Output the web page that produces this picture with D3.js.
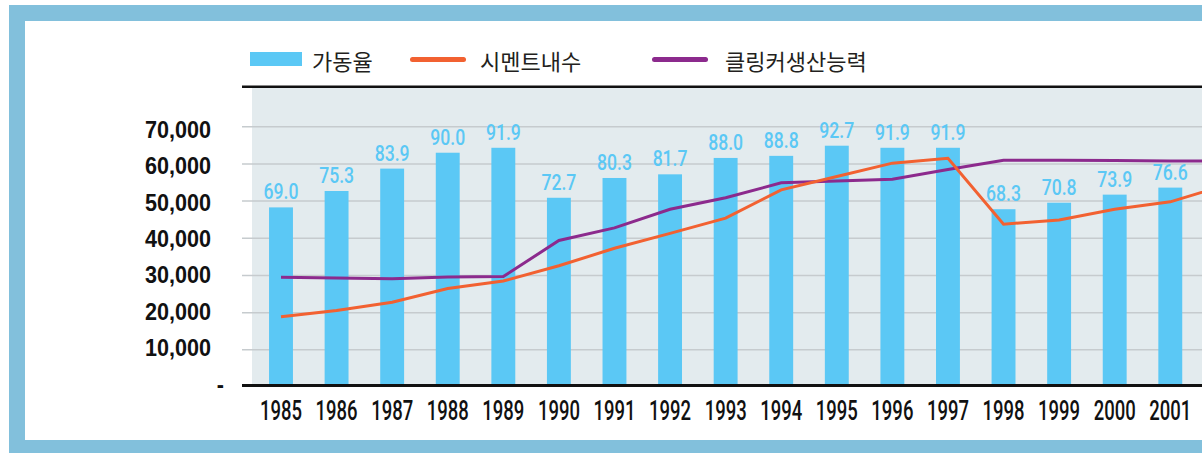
<!DOCTYPE html>
<html>
<head>
<meta charset="utf-8">
<script src="https://cdn.jsdelivr.net/npm/d3@7"></script>
<style>
  html, body { margin: 0; padding: 0; background: #fff; overflow: hidden; }
  svg { display: block; }
</style>
</head>
<body>
<div id="chart"></div>
<script>
//constants
const width = 1202;
const height = 453;

// data
const years = [1985, 1986, 1987, 1988, 1989, 1990, 1991, 1992, 1993, 1994, 1995, 1996, 1997, 1998, 1999, 2000, 2001, 2002];
// 가동율 (%), bars, 1985-2001
const utilization = [69.0, 75.3, 83.9, 90.0, 91.9, 72.7, 80.3, 81.7, 88.0, 88.8, 92.7, 91.9, 91.9, 68.3, 70.8, 73.9, 76.6];
// 시멘트내수 (thousand tons)
const cementDemand = [18900, 20600, 22800, 26500, 28500, 32600, 37300, 41300, 45400, 53000, 56600, 60200, 61500, 43800, 44900, 47800, 49800, 54300];
// 클링커생산능력 (thousand tons)
const clinkerCapacity = [29500, 29300, 29100, 29600, 29700, 39400, 42800, 47800, 50900, 54900, 55400, 55900, 58500, 61000, 61000, 60900, 60800, 60800];
const yTicks = [0, 10000, 20000, 30000, 40000, 50000, 60000, 70000];
const legendLabels = ["가동율", "시멘트내수", "클링커생산능력"];

const colors = {
  frame: "#82C0DC",
  plotBg: "#E3EBEE",
  grid: "#C6CBCE",
  bar: "#5BC8F5",
  demand: "#F26131",
  capacity: "#8C2A8D",
};

const numFont = "Roboto, 'Liberation Sans', sans-serif";

const svg = d3
  .select("#chart")
  .append("svg")
  .attr("width", width)
  .attr("height", height);

// frame
svg.append("rect").attr("x", 9).attr("y", 5).attr("width", 1400).attr("height", 460).attr("fill", colors.frame);
svg.append("rect").attr("x", 25).attr("y", 21).attr("width", 1400).attr("height", 419).attr("fill", "#fff");

// scales
const y = d3.scaleLinear().domain([0, 70000]).range([387, 126.7]);
const yPct = d3.scaleLinear().domain([0, 100]).range([y(0), y(70000)]);
const yLabel = d3.scaleLinear().domain([0, 70000]).range([384.7, 129.7]);

const step = 55.58;
const x = d3
  .scaleBand()
  .domain(years)
  .range([281 - step / 2, 281 - step / 2 + step * years.length])
  .paddingInner(0.57)
  .paddingOuter(0.285);
const cx = (yr) => x(yr) + x.bandwidth() / 2;

// plot background
svg
  .append("rect")
  .attr("x", 252)
  .attr("y", 88)
  .attr("width", width - 252)
  .attr("height", 385 - 88)
  .attr("fill", colors.plotBg);

// gridlines
svg
  .selectAll(".grid")
  .data(yTicks.filter((d) => d > 0))
  .join("line")
  .attr("class", "grid")
  .attr("x1", 242)
  .attr("x2", width)
  .attr("y1", (d) => y(d))
  .attr("y2", (d) => y(d))
  .attr("stroke", colors.grid)
  .attr("stroke-width", 1.5);

// y labels
svg
  .selectAll(".ylab")
  .data(yTicks)
  .join("text")
  .attr("class", "ylab")
  .attr("transform", (d) => `translate(${d === 0 ? 224 : 211},${yLabel(d) + 8}) scale(0.92,1)`)
  .attr("text-anchor", "end")
  .attr("font-family", "'Liberation Sans', Arial, sans-serif")
  .attr("font-weight", "bold")
  .attr("font-size", 23.5)
  .attr("fill", "#111")
  .text((d) => (d === 0 ? "-" : d3.format(",")(d)));

// bars
const barData = utilization.map((v, i) => ({ year: years[i], value: v }));

svg
  .selectAll(".bar")
  .data(barData)
  .join("rect")
  .attr("class", "bar")
  .attr("x", (d) => x(d.year))
  .attr("y", (d) => yPct(d.value))
  .attr("width", x.bandwidth())
  .attr("height", (d) => yPct(0) - yPct(d.value))
  .attr("fill", colors.bar);

svg
  .selectAll(".barlab")
  .data(barData)
  .join("text")
  .attr("class", "barlab")
  .attr("transform", (d) => `translate(${cx(d.year)},${yPct(d.value) - 8}) scale(0.8,1)`)
  .attr("text-anchor", "middle")
  .attr("font-family", numFont)
  .attr("font-weight", 500)
  .attr("font-size", 22)
  .attr("fill", colors.bar)
  .text((d) => d.value.toFixed(1));

// lines
const line = d3
  .line()
  .x((d, i) => cx(years[i]))
  .y((d) => y(d));

svg
  .append("path")
  .attr("d", line(clinkerCapacity))
  .attr("fill", "none")
  .attr("stroke", colors.capacity)
  .attr("stroke-width", 3);

svg
  .append("path")
  .attr("d", line(cementDemand))
  .attr("fill", "none")
  .attr("stroke", colors.demand)
  .attr("stroke-width", 3);

// top and bottom black rules
svg.append("line").attr("x1", 242).attr("x2", width).attr("y1", 86.7).attr("y2", 86.7).attr("stroke", "#111").attr("stroke-width", 2.5);
svg.append("line").attr("x1", 242).attr("x2", width).attr("y1", 385.5).attr("y2", 385.5).attr("stroke", "#111").attr("stroke-width", 3);

// x labels (only the years with bars are in view)
svg
  .selectAll(".xlab")
  .data(barData.map((d) => d.year))
  .join("text")
  .attr("class", "xlab")
  .attr("transform", (d) => `translate(${cx(d)},420) scale(0.66,1)`)
  .attr("text-anchor", "middle")
  .attr("font-family", numFont)
  .attr("font-weight", 500)
  .attr("font-size", 28)
  .attr("fill", "#111")
  .text((d) => d);

// legend
const legendX = [250, 410, 652];
const legendTextX = [312, 480, 725];
const legendColors = [colors.bar, colors.demand, colors.capacity];

const legend = svg
  .selectAll(".legend")
  .data(legendLabels)
  .join("g")
  .attr("class", "legend");

legend
  .filter((d, i) => i === 0)
  .append("rect")
  .attr("x", legendX[0])
  .attr("y", 52)
  .attr("width", 52)
  .attr("height", 14)
  .attr("fill", legendColors[0]);

legend
  .filter((d, i) => i > 0)
  .append("line")
  .attr("x1", (d) => legendX[legendLabels.indexOf(d)] + 2.5)
  .attr("x2", (d) => legendX[legendLabels.indexOf(d)] + 53.5)
  .attr("y1", 59.5)
  .attr("y2", 59.5)
  .attr("stroke", (d) => legendColors[legendLabels.indexOf(d)])
  .attr("stroke-width", 5)
  .attr("stroke-linecap", "round");

legend
  .append("text")
  .attr("x", (d, i) => legendTextX[i])
  .attr("y", 60)
  .attr("dominant-baseline", "central")
  .attr("font-family", "'Noto Sans CJK KR', 'Noto Sans', sans-serif")
  .attr("font-size", 22)
  .attr("fill", "#231F20")
  .text((d) => d);
</script>
</body>
</html>
